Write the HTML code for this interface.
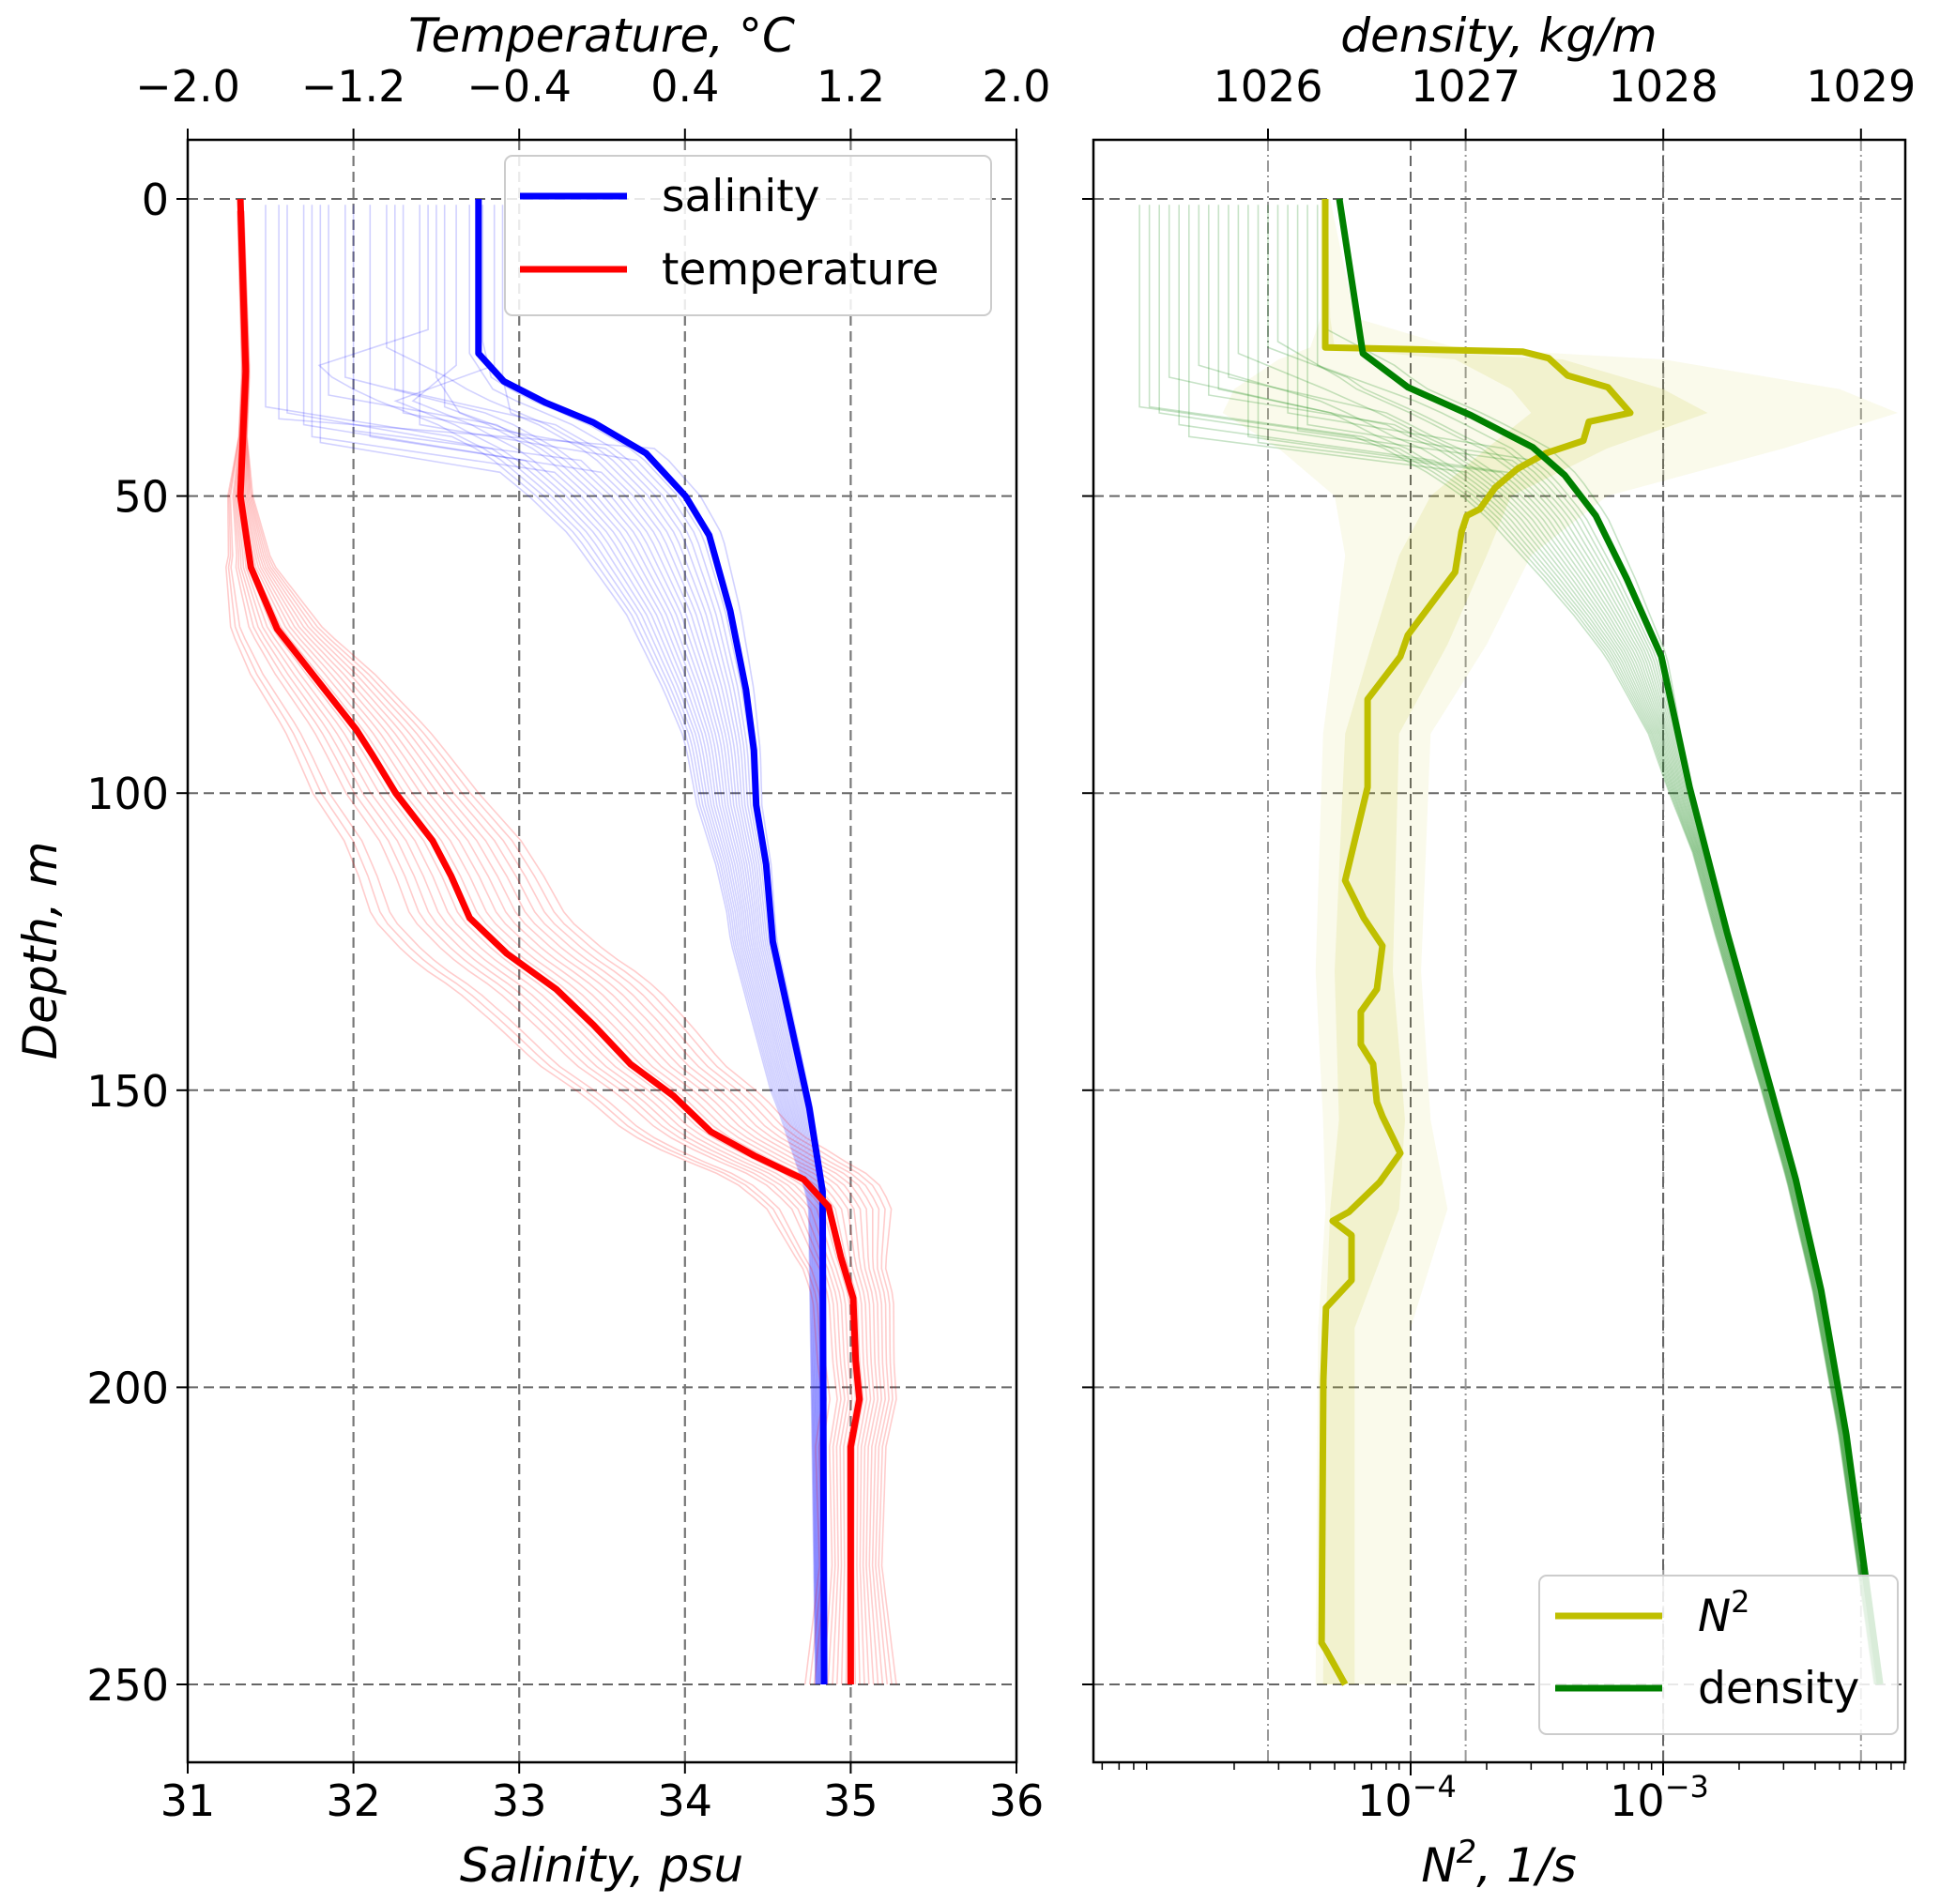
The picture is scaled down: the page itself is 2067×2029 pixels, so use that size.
<!DOCTYPE html>
<html><head><meta charset="utf-8"><style>
body{margin:0;background:#fff}
svg{display:block;font-family:"DejaVu Sans","Liberation Sans",sans-serif}
</style></head><body>
<svg id="fig" width="2067" height="2029" viewBox="0 0 2067 2029" xmlns="http://www.w3.org/2000/svg">
<defs>
<clipPath id="clipL"><rect x="200" y="149" width="883" height="1729"/></clipPath>
<clipPath id="clipR"><rect x="1165" y="149" width="865" height="1729"/></clipPath>
</defs>
<rect width="2067" height="2029" fill="#fff"/>
<g id="gridL"></g>
<g id="gridR"></g>
<g id="plotL" clip-path="url(#clipL)"></g>
<g id="plotR" clip-path="url(#clipR)"></g>
<g id="axes"></g>
<rect x="200" y="149" width="883" height="1729" fill="none" stroke="#000" stroke-width="2.5"/>
<rect x="1165" y="149" width="865" height="1729" fill="none" stroke="#000" stroke-width="2.5"/>

<text x="641" y="55" font-size="50" font-style="italic" text-anchor="middle">Temperature, °C</text>
<text x="641" y="2005" font-size="50" font-style="italic" text-anchor="middle">Salinity, psu</text>
<text transform="translate(60,1013) rotate(-90)" font-size="50" font-style="italic" text-anchor="middle">Depth, m</text>
<text x="1597" y="55" font-size="50" font-style="italic" text-anchor="middle">density, kg/m</text>
<text x="1597" y="2005" font-size="50" font-style="italic" text-anchor="middle">N<tspan font-size="34" dy="-20">2</tspan><tspan dy="20">, 1/s</tspan></text>

<g>
<rect x="538" y="166" width="518" height="170" rx="8" fill="#fff" fill-opacity="0.85" stroke="#ccc" stroke-width="2"/>
<line x1="554" y1="209" x2="668" y2="209" stroke="#0000ff" stroke-width="7"/>
<text x="705" y="225" font-size="47">salinity</text>
<line x1="554" y1="287" x2="668" y2="287" stroke="#ff0000" stroke-width="7"/>
<text x="705" y="303" font-size="47">temperature</text>
</g>
<g>
<rect x="1640" y="1679" width="382" height="169" rx="8" fill="#fff" fill-opacity="0.85" stroke="#ccc" stroke-width="2"/>
<line x1="1657" y1="1722" x2="1771" y2="1722" stroke="#bfbf00" stroke-width="7"/>
<text x="1809" y="1738" font-size="47" font-style="italic">N<tspan font-size="32" dy="-20" font-style="normal">2</tspan></text>
<line x1="1657" y1="1799" x2="1771" y2="1799" stroke="#008000" stroke-width="7"/>
<text x="1809" y="1815" font-size="47">density</text>
</g>
</svg>
<script>
// ---------- data ----------
const salDepth = [0,26,30.7,34.3,37.6,42.8,50,56.6,69.3,82.6,92.8,102,112,125,139,153,167,250];
const salMean  = [32.754,32.754,32.907,33.16,33.447,33.765,34.003,34.146,34.273,34.368,34.416,34.43,34.49,34.53,34.64,34.75,34.83,34.84];
const tempDepth = [0,29,50,62,72.4,80.3,89.3,93.5,100,108,114,121,127,133,139,145.6,151,157,161,165,169.6,173.7,178,185,195.5,202,210,250];
const tempMean  = [-1.746,-1.72,-1.746,-1.695,-1.568,-1.39,-1.187,-1.11,-0.996,-0.818,-0.728,-0.639,-0.46,-0.221,-0.042,0.137,0.346,0.525,0.734,0.973,1.093,1.122,1.152,1.212,1.224,1.242,1.2,1.2];
const densDepth = [0,26,31.7,36.4,41.8,46.5,53.3,63.9,77,99,123.5,150,165,183.6,208,250];
const densMean  = [1026.361,1026.48,1026.708,1027.026,1027.34,1027.501,1027.658,1027.815,1027.99,1028.133,1028.323,1028.546,1028.67,1028.798,1028.926,1029.097];
const n2Depth = [0,25,25.7,26.8,29.7,31.7,36,37.5,40.7,42.8,45.4,48.6,52.2,53.3,56,62.8,66.5,73.4,77,84.2,99,114.7,121,125.7,133,136.8,142.3,145.6,152,154.4,160.6,165.5,170.5,172,174.4,182,186.6,198.7,243,244.2,250];
const n2Mean  = [4.59e-5,4.59e-5,2.77e-4,3.52e-4,4.18e-4,6.04e-4,7.41e-4,5.08e-4,4.83e-4,3.43e-4,2.65e-4,2.16e-4,1.88e-4,1.67e-4,1.59e-4,1.5e-4,1.29e-4,9.75e-5,9.1e-5,6.75e-5,6.75e-5,5.5e-5,6.52e-5,7.73e-5,7.35e-5,6.35e-5,6.35e-5,7.1e-5,7.35e-5,7.73e-5,9.1e-5,7.53e-5,5.69e-5,4.91e-5,5.83e-5,5.83e-5,4.62e-5,4.51e-5,4.44e-5,4.62e-5,5.5e-5];
// ensemble descriptors
const salSurf = [31.47,31.6,31.7,31.75,31.85,31.95,32.1,32.2,32.3,32.4,32.45,32.55,32.62,32.7,32.78,32.85,32.9,31.8,32.0,32.5,31.55,32.25];
const salMld  = [35,36,38,40,33,30,40,25,36,38,22,35,28,26,24,28,30,41,39,30,37,32];
const salK    = [1.0,0.9,0.8,0.7,0.6,0.5,0.4,0.3,0.2,0.1,0.95,0.55,0.75,0.15,0.05,0.85,0.35,1.05,0.45,0.65,-0.1,0.25];
const salSpreadD = [0,25,40,50,70,90,120,150,170,250];
const salSpreadW = [0,1.1,1.0,0.9,0.6,0.4,0.25,0.2,0.08,0.05];
const tempK = [-1,-0.8,-0.6,-0.4,-0.2,0,0.2,0.4,0.6,0.8,1,-0.9,-0.5,-0.1,0.3,0.7,0.9,-0.3,0.1,0.5];
const tempSpreadD = [0,40,60,80,100,130,160,180,230,250];
const tempSpreadW = [0.015,0.02,0.1,0.3,0.4,0.5,0.4,0.2,0.15,0.22];
const densSurf = [1025.35,1025.45,1025.55,1025.6,1025.7,1025.8,1025.9,1026.0,1026.1,1026.2,1026.3,1025.4,1025.65,1025.85,1026.05,1026.25,1025.5,1025.95,1026.15,1025.75];
const densMld  = [35,36,38,40,33,30,40,25,36,38,22,35,28,26,24,28,30,41,39,32];
const densK    = [1.0,0.9,0.8,0.7,0.6,0.5,0.4,0.3,0.2,0.1,-0.1,0.95,0.75,0.55,0.35,0.15,0.85,0.45,0.25,0.65];
const densSpreadD = [0,25,40,50,70,90,110,150,200,250];
const densSpreadW = [0,0.8,0.8,0.6,0.35,0.15,0.07,0.05,0.04,0.03];
const n2BandD  = [0,20,25,27,32,36,42,50,60,75,90,130,155,170,190,250];
const n2BandLo = [4.4e-5,4.4e-5,4.0e-5,3e-5,2e-5,1.8e-5,3e-5,5e-5,5.5e-5,5e-5,4.5e-5,4.2e-5,4.5e-5,4.6e-5,4.3e-5,4.2e-5];
const n2BandHi = [4.8e-5,6e-5,1.5e-4,1e-3,5e-3,8.5e-3,3e-3,6e-4,3e-4,2e-4,1.2e-4,1.1e-4,1.2e-4,1.4e-4,1e-4,1e-4];
const n2CoreLo = [4.5e-5,4.5e-5,4.5e-5,1.5e-4,2.5e-4,3e-4,2e-4,1.2e-4,9e-5,7e-5,5.5e-5,5e-5,5.2e-5,4.8e-5,4.6e-5,4.5e-5];
const n2CoreHi = [4.7e-5,4.8e-5,5e-5,4e-4,1e-3,1.5e-3,6e-4,2.5e-4,2e-4,1.4e-4,9e-5,8.5e-5,9.5e-5,9e-5,6e-5,6e-5];
const depthTicks = [0,50,100,150,200,250];
const salTicks = [31,32,33,34,35,36];
const tempTicks = [-2.0,-1.2,-0.4,0.4,1.2,2.0];
const tempTickLabels = ["\u22122.0","\u22121.2","\u22120.4","0.4","1.2","2.0"];
const densTicks = [1026,1027,1028,1029];
const logMajor = [1e-4,1e-3];
const logMajorLabels = ["\u22124","\u22123"];

// ---------- scales ----------
const yD = d => 212 + d*6.332;
const xS = s => 200 + (s-31)*176.6;
const xT = t => 200 + (t+2)*220.75;
const xR = r => 1351 + (r-1026)*210.6;
const xN = v => 1503 + (Math.log10(v)+4)*269;
function interp(xs, ys, x){
  if (x<=xs[0]) return ys[0];
  for (let i=1;i<xs.length;i++){ if (x<=xs[i]){ const t=(x-xs[i-1])/(xs[i]-xs[i-1]); return ys[i-1]+t*(ys[i]-ys[i-1]); } }
  return ys[ys.length-1];
}
const NS='http://www.w3.org/2000/svg';
function mk(tag, attrs, parent){ const e=document.createElementNS(NS,tag); for(const k in attrs) e.setAttribute(k,attrs[k]); parent.appendChild(e); return e; }
const gL=document.getElementById('plotL'), gR=document.getElementById('plotR');
const gridL=document.getElementById('gridL'), gridR=document.getElementById('gridR'), ax=document.getElementById('axes');
const grid=[]; for(let d=0; d<=250; d+=2) grid.push(d);

// ---------- grids ----------
depthTicks.forEach(d=>{
  let l=mk('line',{x1:200,x2:1083,y1:yD(d),y2:yD(d),stroke:'#666','stroke-width':2,'stroke-dasharray':'11,6'},gridL);
  
  
  l=mk('line',{x1:1165,x2:2030,y1:yD(d),y2:yD(d),stroke:'#666','stroke-width':2,'stroke-dasharray':'11,6'},gridR);
  
  
});
salTicks.slice(1,-1).forEach(s=>{ const l=mk('line',{x1:xS(s),x2:xS(s),y1:149,y2:1878,stroke:'#777','stroke-width':2,'stroke-dasharray':'11,6'},gridL);
  
   });
tempTicks.slice(1,-1).forEach(t=>{ const l=mk('line',{x1:xT(t),x2:xT(t),y1:149,y2:1878,stroke:'#777','stroke-width':2,'stroke-dasharray':'11,6'},gridL);
  
   });
densTicks.forEach(r=>{ const l=mk('line',{x1:xR(r),x2:xR(r),y1:149,y2:1878,stroke:'#999','stroke-width':2,'stroke-dasharray':'12,4,2,4'},gridR);
  
   });
logMajor.forEach(v=>{ const l=mk('line',{x1:xN(v),x2:xN(v),y1:149,y2:1878,stroke:'#666','stroke-width':2,'stroke-dasharray':'11,6'},gridR);
  
   });

// ---------- ensembles ----------
function pathFrom(pts){ return 'M'+pts.map(p=>p[0].toFixed(1)+','+p[1].toFixed(1)).join('L'); }
salSurf.forEach((s0,i)=>{
  const pts=[[xS(s0),yD(1)],[xS(s0),yD(salMld[i])]];
  grid.forEach(d=>{ if(d>salMld[i]+4) pts.push([xS(interp(salDepth,salMean,d)-salK[i]*interp(salSpreadD,salSpreadW,d)),yD(d)]); });
  const p=mk('path',{d:pathFrom(pts),fill:'none',stroke:'rgba(0,0,255,0.18)','stroke-width':1.6},gL);
  
  
});
tempK.forEach(k=>{
  const pts=[]; grid.forEach(d=>{ if(d>=1) pts.push([xT(interp(tempDepth,tempMean,d)+k*interp(tempSpreadD,tempSpreadW,d)),yD(d)]); });
  const p=mk('path',{d:pathFrom(pts),fill:'none',stroke:'rgba(255,0,0,0.2)','stroke-width':1.6},gL);
  
  
});
// N2 bands
function band(lo, hi, fill, name){
  const pts=[]; n2BandD.forEach((d,i)=>pts.push([xN(hi[i]),yD(d)]));
  for(let i=n2BandD.length-1;i>=0;i--) pts.push([xN(lo[i]),yD(n2BandD[i])]);
  const p=mk('path',{d:pathFrom(pts)+'Z',fill:fill,stroke:'none'},gR);
  
  
}
band(n2BandLo,n2BandHi,'rgba(191,191,0,0.08)','n2-spread-band');
band(n2CoreLo,n2CoreHi,'rgba(191,191,0,0.12)','n2-core-band');
densSurf.forEach((r0,i)=>{
  const pts=[[xR(r0),yD(1)],[xR(r0),yD(densMld[i])]];
  grid.forEach(d=>{ if(d>densMld[i]+4) pts.push([xR(interp(densDepth,densMean,d)-densK[i]*interp(densSpreadD,densSpreadW,d)),yD(d)]); });
  const p=mk('path',{d:pathFrom(pts),fill:'none',stroke:'rgba(0,128,0,0.22)','stroke-width':1.6},gR);
  
  
});

// ---------- means ----------
let m;
m=mk('path',{d:pathFrom(salDepth.map((d,i)=>[xS(salMean[i]),yD(d)])),fill:'none',stroke:'#0000ff','stroke-width':7,'stroke-linejoin':'round'},gL);


m=mk('path',{d:pathFrom(tempDepth.map((d,i)=>[xT(tempMean[i]),yD(d)])),fill:'none',stroke:'#ff0000','stroke-width':7,'stroke-linejoin':'round'},gL);


m=mk('path',{d:pathFrom(n2Depth.map((d,i)=>[xN(n2Mean[i]),yD(d)])),fill:'none',stroke:'#bfbf00','stroke-width':7,'stroke-linejoin':'round'},gR);


m=mk('path',{d:pathFrom(densDepth.map((d,i)=>[xR(densMean[i]),yD(d)])),fill:'none',stroke:'#008000','stroke-width':7,'stroke-linejoin':'round'},gR);



// ---------- ticks & labels ----------
depthTicks.forEach(d=>{
  let t=mk('line',{x1:188,x2:200,y1:yD(d),y2:yD(d),stroke:'#000','stroke-width':2},ax);
  
  
  t=mk('line',{x1:1153,x2:1165,y1:yD(d),y2:yD(d),stroke:'#000','stroke-width':2},ax);
  
  
  const tx=mk('text',{x:180,y:yD(d)+17,'font-size':46,'text-anchor':'end'},ax); tx.textContent=d;
  
  
});
salTicks.forEach(s=>{
  const t=mk('line',{x1:xS(s),x2:xS(s),y1:1878,y2:1890,stroke:'#000','stroke-width':2},ax);
  
  
  const tx=mk('text',{x:xS(s),y:1935,'font-size':46,'text-anchor':'middle'},ax); tx.textContent=s;
  
  
});
tempTicks.forEach((v,i)=>{
  const t=mk('line',{x1:xT(v),x2:xT(v),y1:137,y2:149,stroke:'#000','stroke-width':2},ax);
  
  
  const tx=mk('text',{x:xT(v),y:108,'font-size':46,'text-anchor':'middle'},ax); tx.textContent=tempTickLabels[i];
  
  
});
densTicks.forEach(r=>{
  const t=mk('line',{x1:xR(r),x2:xR(r),y1:137,y2:149,stroke:'#000','stroke-width':2},ax);
  
  
  const tx=mk('text',{x:xR(r),y:108,'font-size':46,'text-anchor':'middle'},ax); tx.textContent=r;
  
  
});
logMajor.forEach((v,i)=>{
  const t=mk('line',{x1:xN(v),x2:xN(v),y1:1878,y2:1892,stroke:'#000','stroke-width':2},ax);
  
  
  const tx=mk('text',{x:xN(v)-4,y:1935,'font-size':46,'text-anchor':'middle'},ax);
  
  
  const a=document.createElementNS(NS,'tspan'); a.textContent='10'; tx.appendChild(a);
  const b=document.createElementNS(NS,'tspan'); b.setAttribute('dy','-20'); b.setAttribute('font-size','32'); b.textContent=logMajorLabels[i]; tx.appendChild(b);
});
for(let e=-6;e<=-3;e++){ for(let k=2;k<=9;k++){ const v=k*Math.pow(10,e); const x=xN(v); if(x>1166 && x<2029){
  const t=mk('line',{x1:x,x2:x,y1:1878,y2:1886,stroke:'#000','stroke-width':1.5},ax);
  
   } } }
</script>
</body></html>
